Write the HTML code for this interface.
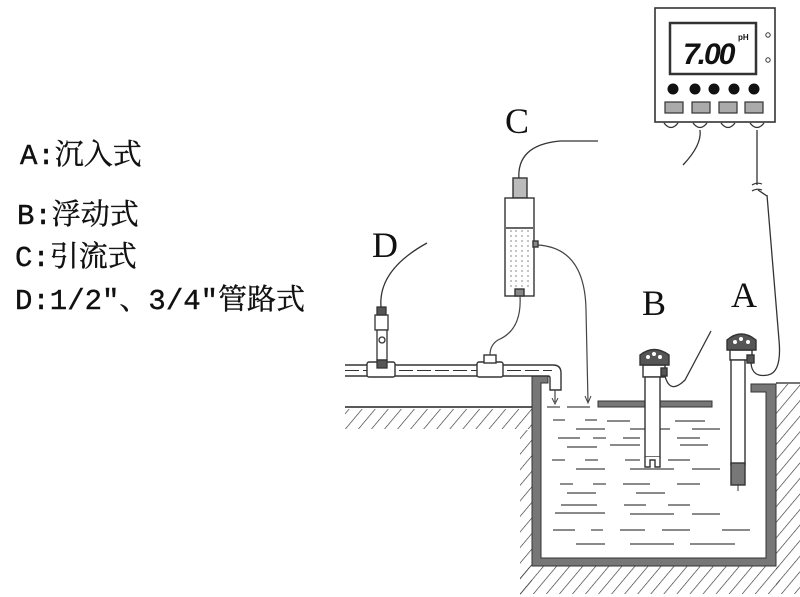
<!DOCTYPE html>
<html><head><meta charset="utf-8"><style>
html,body{margin:0;padding:0;background:#fff;}
svg{display:block}
.t{font-family:"Liberation Mono","Noto Serif CJK SC",monospace;font-size:29px;fill:#111;stroke:#111;stroke-width:0.4}
.L{font-family:"Liberation Serif",serif;font-size:36px;fill:#111}
</style></head><body>
<svg width="800" height="597" viewBox="0 0 800 597" xmlns="http://www.w3.org/2000/svg">
<defs>
<pattern id="h" width="10" height="10" patternUnits="userSpaceOnUse" patternTransform="rotate(40)">
<line x1="0" y1="0" x2="0" y2="10" stroke="#333" stroke-width="1.3"/>
</pattern>
</defs>
<!-- labels -->
<text class="t" x="20" y="164">A:沉入式</text>
<text class="t" x="17" y="224">B:浮动式</text>
<text class="t" x="15" y="266">C:引流式</text>
<text class="t" x="15" y="309">D:1/2″、3/4″管路式</text>
<text class="L" x="372" y="257">D</text>
<text class="L" x="505" y="133">C</text>
<text class="L" x="642" y="315">B</text>
<text class="L" x="731" y="307">A</text>

<!-- ground -->
<line x1="345" y1="407" x2="532" y2="407" stroke="#222" stroke-width="1.5"/>
<rect x="345" y="409" width="187" height="20" fill="url(#h)"/>
<rect x="776" y="384" width="24" height="210" fill="url(#h)"/>
<rect x="520" y="430" width="12" height="165" fill="url(#h)"/>
<rect x="520" y="566" width="260" height="28" fill="url(#h)"/>
<line x1="776" y1="383" x2="800" y2="383" stroke="#222" stroke-width="1.2"/>
<!-- tank walls -->
<path d="M532 375 H548 V383 H541 V558 H766 V392 H751 V384 H776 V566 H532 Z" fill="#777" stroke="#333" stroke-width="1"/>
<!-- water lines -->
<g stroke="#444" stroke-width="1.2">
<line x1="547" y1="407" x2="560" y2="407"/><line x1="567" y1="407" x2="590" y2="407"/>
<line x1="553" y1="420" x2="565" y2="420"/><line x1="585" y1="420" x2="597" y2="420"/><line x1="607" y1="421" x2="630" y2="421"/><line x1="675" y1="421" x2="705" y2="421"/>
<line x1="576" y1="429" x2="605" y2="429"/><line x1="630" y1="429" x2="670" y2="429"/><line x1="692" y1="429" x2="720" y2="429"/>
<line x1="558" y1="438" x2="580" y2="438"/><line x1="593" y1="438" x2="606" y2="438"/><line x1="623" y1="438" x2="640" y2="438"/><line x1="677" y1="438" x2="700" y2="438"/>
<line x1="567" y1="447" x2="597" y2="447"/><line x1="610" y1="445" x2="640" y2="445"/><line x1="680" y1="445" x2="708" y2="445"/>
<line x1="552" y1="460" x2="565" y2="460"/><line x1="585" y1="460" x2="598" y2="460"/><line x1="625" y1="460" x2="640" y2="460"/><line x1="668" y1="460" x2="690" y2="460"/>
<line x1="576" y1="469" x2="605" y2="469"/><line x1="630" y1="469" x2="674" y2="469"/><line x1="692" y1="469" x2="720" y2="469"/>
<line x1="560" y1="484" x2="573" y2="484"/><line x1="593" y1="484" x2="606" y2="484"/><line x1="623" y1="484" x2="650" y2="484"/><line x1="677" y1="484" x2="700" y2="484"/>
<line x1="567" y1="493" x2="596" y2="493"/><line x1="636" y1="493" x2="665" y2="493"/>
<line x1="561" y1="505" x2="597" y2="505"/><line x1="624" y1="505" x2="646" y2="505"/><line x1="668" y1="505" x2="690" y2="505"/>
<line x1="555" y1="513" x2="605" y2="513"/><line x1="630" y1="514" x2="674" y2="514"/><line x1="692" y1="514" x2="720" y2="514"/>
<line x1="553" y1="530" x2="575" y2="530"/><line x1="591" y1="530" x2="603" y2="530"/><line x1="620" y1="530" x2="645" y2="530"/><line x1="662" y1="530" x2="690" y2="530"/><line x1="722" y1="530" x2="750" y2="530"/>
<line x1="576" y1="544" x2="605" y2="544"/><line x1="630" y1="544" x2="674" y2="544"/><line x1="690" y1="544" x2="735" y2="544"/>
</g>
<!-- pipe -->
<g fill="#fff" stroke="#333" stroke-width="1.4">
<path d="M345 365 H553 Q561 365 561 373 V390 H550 V378 Q550 376 548 376 H345"/>
<line x1="345" y1="370.5" x2="552" y2="370.5" stroke-dasharray="14,4" stroke-width="1"/>
<rect x="367" y="362" width="28" height="15" rx="2"/>
<rect x="477" y="362" width="26" height="15" rx="2"/>
<rect x="484" y="355" width="12" height="8"/>
</g>
<line x1="555" y1="390" x2="555" y2="402" stroke="#444" stroke-width="1.2"/>
<path d="M552 398 L555 404 L558 398" fill="none" stroke="#444"/>
<!-- D sensor -->
<g fill="#fff" stroke="#333" stroke-width="1.3">
<rect x="375" y="315" width="13" height="15"/>
<rect x="377" y="330" width="10" height="30"/>
<rect x="377" y="307" width="9" height="8" fill="#555"/>
<circle cx="382" cy="340" r="3"/>
<rect x="377" y="360" width="10" height="8" fill="#555"/>
</g>
<path d="M381 307 Q378 270 427 243" fill="none" stroke="#333" stroke-width="1.3"/>
<!-- C flow cell -->
<path d="M519 180 Q516 145 560 141 L598 141" fill="none" stroke="#333" stroke-width="1.3"/>
<g fill="#fff" stroke="#333" stroke-width="1.4">
<rect x="513" y="178" width="14" height="20" fill="#bbb"/>
<rect x="505" y="198" width="29" height="98"/>
<line x1="506" y1="228" x2="533" y2="228"/>
<rect x="533" y="241" width="5" height="6" fill="#888"/>
<rect x="515" y="289" width="9" height="7" fill="#888"/>
</g>
<g stroke="#888" stroke-width="1" stroke-dasharray="2,3">
<line x1="511" y1="230" x2="511" y2="290"/><line x1="516" y1="230" x2="516" y2="290"/><line x1="522" y1="230" x2="522" y2="290"/><line x1="528" y1="230" x2="528" y2="290"/>
</g>
<path d="M520 296 Q522 330 498 340 Q490 345 490 355" fill="none" stroke="#444" stroke-width="1.2"/>
<path d="M538 245 Q585 248 586 310 L588 402" fill="none" stroke="#444" stroke-width="1.2"/>
<path d="M585 396 L588 403 L591 396" fill="none" stroke="#444"/>
<!-- B float -->
<rect x="598" y="401" width="114" height="6" fill="#777" stroke="#333"/>
<g fill="#fff" stroke="#333" stroke-width="1.4">
<rect x="643" y="365" width="22" height="12"/>
<rect x="645" y="377" width="15" height="80"/>
<path d="M640 365 V355 Q654 344 669 355 V365 Z" fill="#555"/>
<path d="M645 457 V467 H650 V460 H655 V467 H660 V457"/>
<rect x="661" y="368" width="6" height="8" fill="#555"/>
</g>
<circle cx="648" cy="357" r="2" fill="#fff"/><circle cx="654" cy="354" r="2" fill="#fff"/><circle cx="660" cy="357" r="2" fill="#fff"/>
<path d="M665 376 Q670 395 685 380 L711 331" fill="none" stroke="#333" stroke-width="1.3"/>
<!-- A sensor -->
<g fill="#fff" stroke="#333" stroke-width="1.4">
<rect x="730" y="350" width="22" height="10"/>
<rect x="731" y="360" width="14" height="105"/>
<path d="M727 350 V340 Q741 328 756 340 V350 Z" fill="#555"/>
<rect x="731" y="463" width="14" height="22" fill="#777"/>
<rect x="747" y="355" width="7" height="8" fill="#555"/>
</g>
<circle cx="735" cy="342" r="2" fill="#fff"/><circle cx="741" cy="339" r="2" fill="#fff"/><circle cx="748" cy="342" r="2" fill="#fff"/>
<line x1="738" y1="485" x2="738" y2="491" stroke="#333"/>
<path d="M751 363 Q752 378 768 375 Q782 372 779 340 L767 195" fill="none" stroke="#333" stroke-width="1.3"/>
<line x1="757" y1="130" x2="757" y2="185" stroke="#333" stroke-width="1.3"/>
<path d="M752 185 Q757 182 762 184 M752 191 Q757 188 762 190" fill="none" stroke="#333" stroke-width="1.2"/>
<line x1="758" y1="190" x2="767" y2="196" stroke="#333" stroke-width="1.3"/>
<!-- meter -->
<rect x="655" y="8" width="120" height="114" fill="#fff" stroke="#333" stroke-width="1.6"/>
<rect x="670" y="23" width="86" height="51" fill="#fff" stroke="#333" stroke-width="2.5"/>
<text x="683" y="64" font-family="Liberation Sans,sans-serif" font-weight="bold" font-style="italic" font-size="30" fill="#111" letter-spacing="-2">7.00</text>
<text x="738" y="40" font-family="Liberation Sans,sans-serif" font-size="8" font-weight="bold" fill="#111">pH</text>
<circle cx="768" cy="35" r="2.2" fill="none" stroke="#333"/><circle cx="768" cy="60" r="2.2" fill="none" stroke="#333"/>
<g fill="#111"><circle cx="673" cy="89" r="5.5"/><circle cx="695" cy="89" r="5.5"/><circle cx="714" cy="89" r="5.5"/><circle cx="734" cy="89" r="5.5"/><circle cx="754" cy="89" r="5.5"/></g>
<g fill="#aaa" stroke="#333" stroke-width="1.2"><rect x="665" y="102" width="18" height="11"/><rect x="692" y="102" width="18" height="11"/><rect x="719" y="102" width="18" height="11"/><rect x="745" y="102" width="18" height="11"/></g>
<g fill="#fff" stroke="#333" stroke-width="1.3">
<path d="M664 123 Q671 132 678 123"/><path d="M693 123 Q700 132 707 123"/><path d="M721 123 Q728 132 735 123"/><path d="M750 123 Q757 132 764 123"/>
</g>
<path d="M700 130 Q702 145 683 165" fill="none" stroke="#333" stroke-width="1.3"/>
</svg>
</body></html>
